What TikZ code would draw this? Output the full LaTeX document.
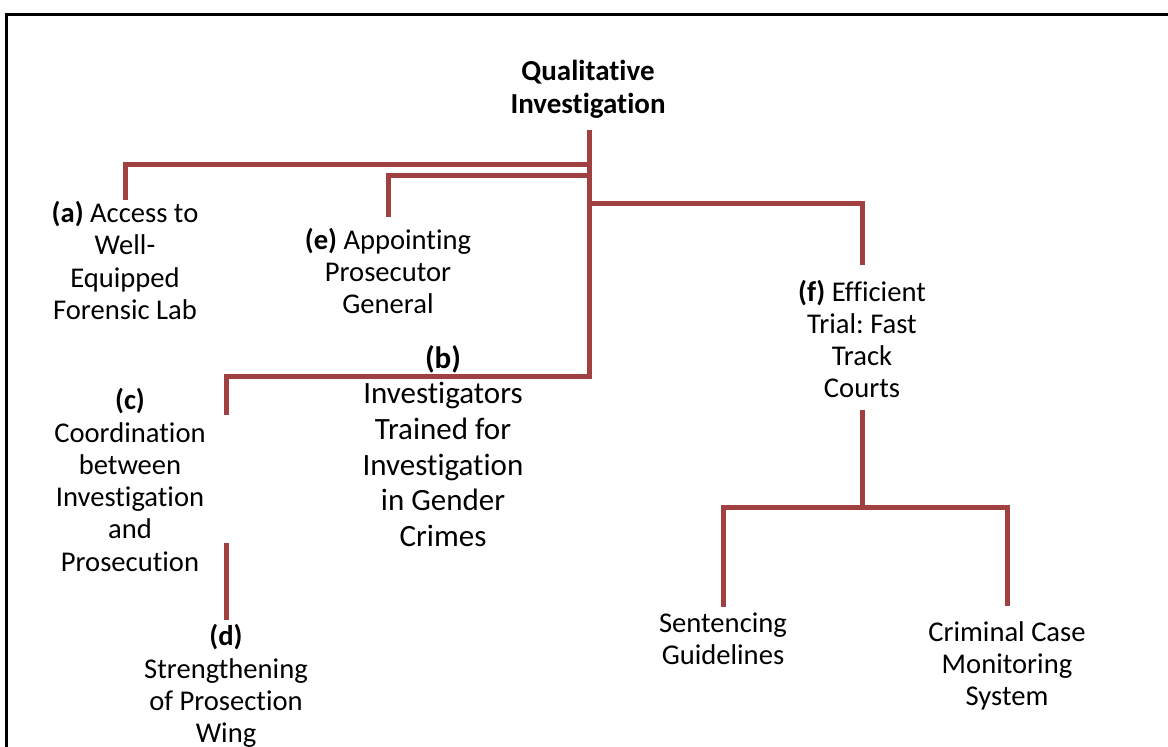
\documentclass[tikz,border=0pt]{standalone}
\usepackage{fontspec}
\setmainfont{Carlito}[RawFeature=-liga]
\definecolor{linkred}{RGB}{160,64,64}
\frenchspacing
\begin{document}
\begin{tikzpicture}[x=1pt,y=-1pt,
  link/.style={draw=linkred, line width=5pt},
  item/.style={align=center, inner sep=0pt, font=\fontsize{28.6}{32.3}\selectfont},
  big/.style={align=center, inner sep=0pt, font=\fontsize{31}{35.6}\selectfont}]
\useasboundingbox (0,0) rectangle (1168,747);
\clip (0,0) rectangle (1168,747);
\draw[line width=3pt] (6,14) rectangle (1180,760);

\node[item, font=\fontsize{29}{33}\selectfont\bfseries] (title) at (588,89.5) {Qualitative\\Investigation};
\node[item] (a) at (125,260.5) {\textbf{(a)} Access to\\Well-\\Equipped\\Forensic Lab};
\node[item] (e) at (388,271) {\textbf{(e)} Appointing\\Prosecutor\\General};
\node[item] (f) at (862,339) {\textbf{(f)} Efficient\\Trial: Fast\\Track\\Courts};
\node[big] (b) at (443,446) {\textbf{(b)}\\Investigators\\Trained for\\Investigation\\in Gender\\Crimes};
\node[item] (c) at (130,480) {\textbf{(c)}\\Coordination\\between\\Investigation\\and\\Prosecution};
\node[item] (d) at (226,686) {\textbf{(d)}\\Strengthening\\of Prosection\\Wing};
\node[item] (sg) at (723,639) {Sentencing\\Guidelines};
\node[item] (cc) at (1007,666) {Criminal Case\\Monitoring\\System};

\coordinate (root) at (589,130);
\coordinate (aT) at (125,200);
\coordinate (eT) at (388,217);
\coordinate (fT) at (862,265);
\coordinate (fB) at (862,410);
\coordinate (cT) at (226,415);
\coordinate (dT) at (226,543);
\coordinate (dB) at (226,620);
\coordinate (sT) at (723,607);
\coordinate (mT) at (1007,606);
\coordinate (fJ) at (862,507);

\draw[link] (root) -- ++(0,246) -| (cT);
\draw[link] (root |- 0,164) -| (aT);
\draw[link] (root |- 0,175) -| (eT);
\draw[link] (root |- 0,203) -| (fT);
\draw[link] (dT) -- (dB);
\draw[link] (fB) -- (fJ) -| (sT);
\draw[link] (fJ) -| (mT);
\end{tikzpicture}
\end{document}
